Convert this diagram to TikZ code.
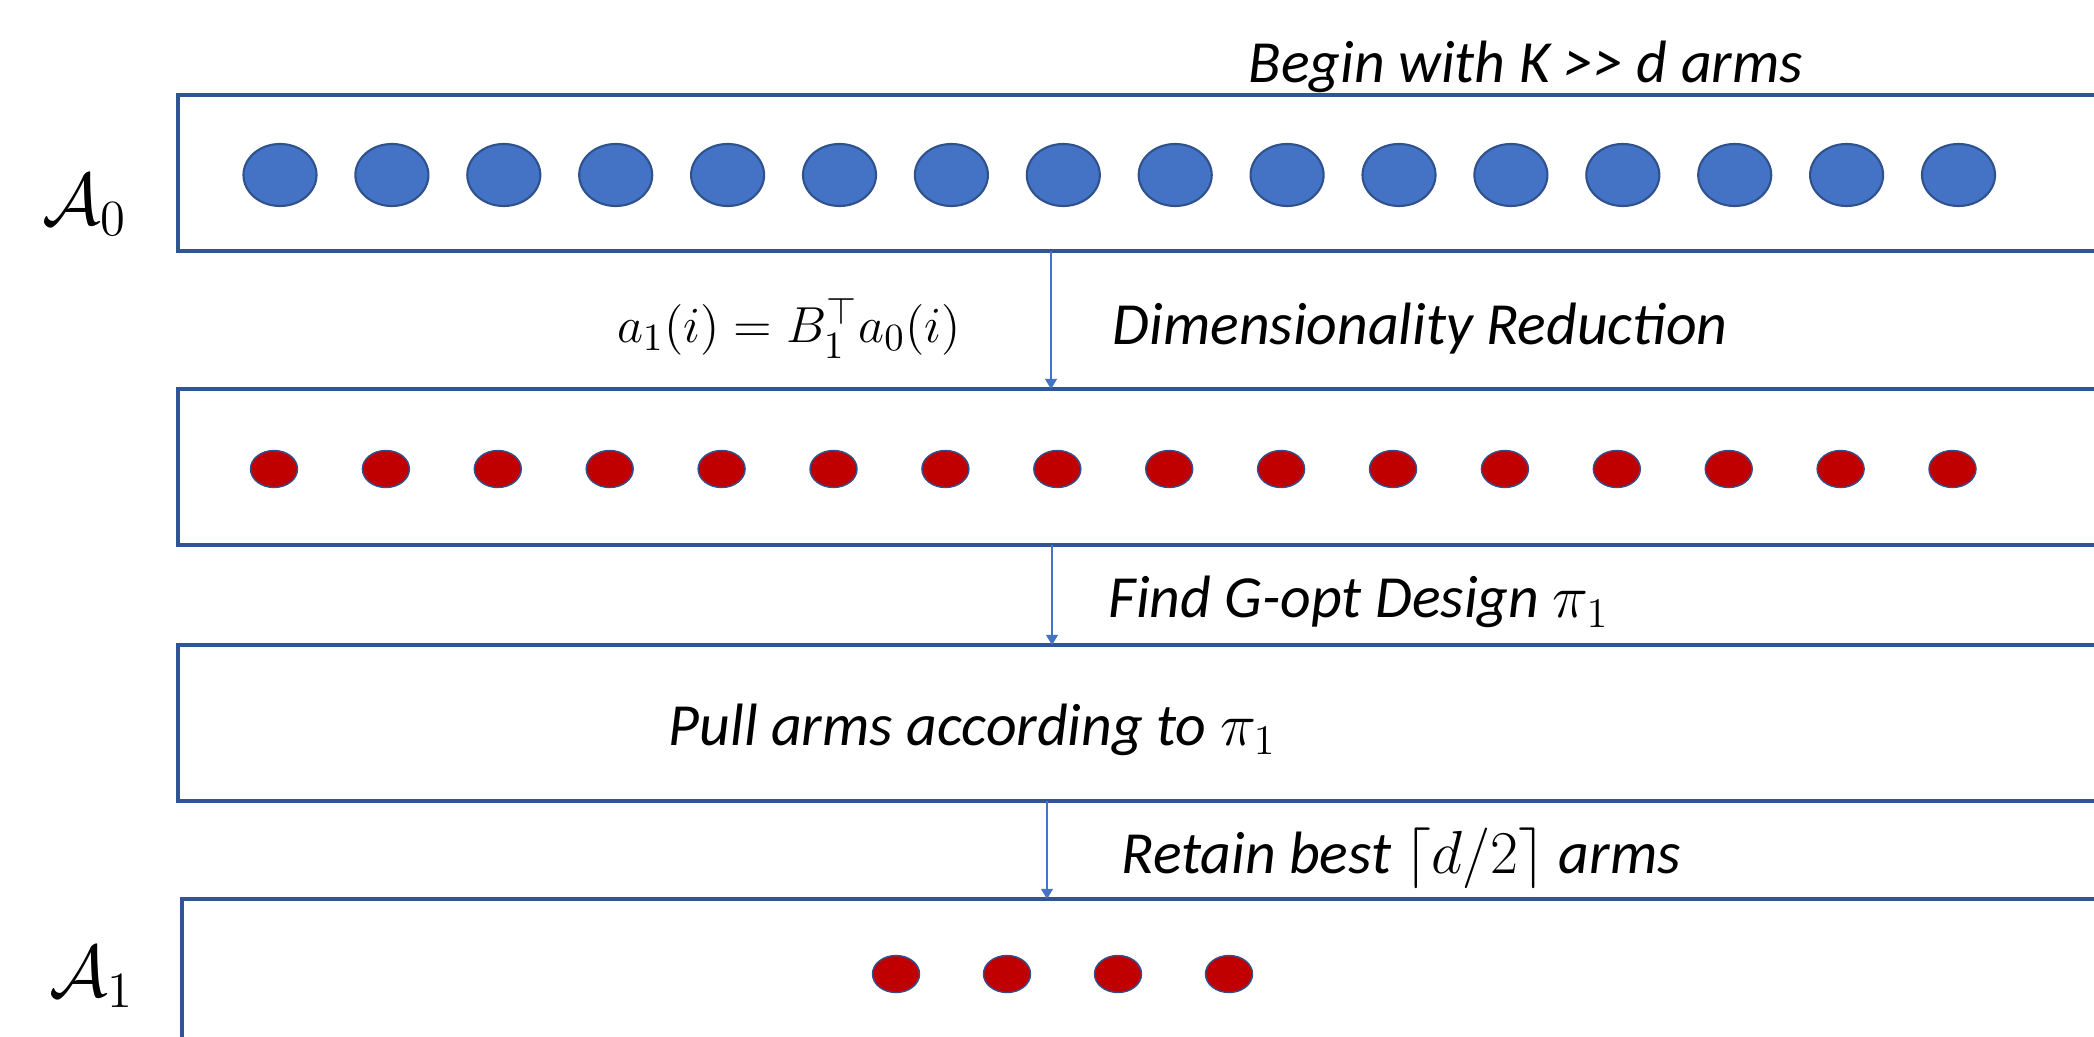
\documentclass[tikz,border=0pt]{standalone}
\usepackage{amsmath}
\usepackage{amssymb}
\usepackage{fontspec}
\setmainfont{Carlito}
\usepackage{tikz}
\usetikzlibrary{shapes.geometric,arrows.meta}
\definecolor{boxblue}{HTML}{2F5597}
\definecolor{armblue}{HTML}{4472C4}
\definecolor{armedge}{HTML}{2F528F}
\definecolor{armred}{HTML}{C00000}
\tikzstyle{stage} = [
    draw=boxblue,
    line width=1.1pt,
    rectangle,
    anchor=north west,
    minimum width=22cm,
    minimum height=1.56cm,
    inner sep=0pt,
    outer sep=0pt
    ]
\tikzstyle{bigarm} = [ellipse, draw=armedge, line width=0.6pt, fill=armblue,
    minimum width=0.73cm, minimum height=0.62cm, inner sep=0pt]
\tikzstyle{smallarm} = [ellipse, draw=armedge, line width=0.4pt, fill=armred,
    minimum width=0.47cm, minimum height=0.37cm, inner sep=0pt]
\tikzstyle{flow} = [draw=armblue, line width=0.4pt, -{Triangle[length=2.9pt,width=3.4pt]}]
\tikzstyle{steptext} = [anchor=base west, inner sep=0pt, font=\fontsize{17}{20}\selectfont\itshape]
\tikzstyle{setlabel} = [inner sep=0pt, font=\fontsize{20}{24}\selectfont]

\begin{document}
\begin{tikzpicture}[x=0.01cm, y=-0.01cm]
\useasboundingbox (0,0) rectangle (2094,1037);
\clip (0,0) rectangle (2094,1037);

\node[stage] (set0) at (178,95) {};
\node[stage] (proj) at (178,389) {};
\node[stage] (pull) at (178,645) {};
\node[stage, minimum height=2cm] (set1) at (182,899) {};

\foreach \i in {0,...,15}
    \node[bigarm] (big\i) at (280+111.9*\i,175) {};
\foreach \i in {0,...,15}
    \node[smallarm] (small\i) at (274+111.9*\i,469) {};
\foreach \i in {0,...,3}
    \node[smallarm] (kept\i) at (896+111*\i,974) {};

\node[setlabel] (lab0) at (85,205) {$\mathcal{A}_0$};
\node[setlabel] (lab1) at (92,977) {$\mathcal{A}_1$};

\node[steptext] (begin) at (1248,83) {Begin with K >{}> d arms};
\node[steptext] (dimred) at (1112,345) {Dimensionality Reduction};
\node[setlabel, font=\fontsize{15.8}{19}\selectfont] (map) at (789,328) {$a_1(i) = B_1^{\top} a_0(i)$};
\node[steptext] (gopt) at (1108,618) {Find G-opt Design $\pi_1$};
\node[steptext] (pullarms) at (668,745) {Pull arms according to $\pi_1$};
\node[steptext] (retain) at (1121,873) {Retain best $\lceil d/2\rceil$ arms};

\coordinate (c0) at (1051,0);
\coordinate (c1) at (1052,0);
\coordinate (c2) at (1047,0);
\draw[flow] (set0.south -| c0) -- (proj.north -| c0);
\draw[flow] (proj.south -| c1) -- (pull.north -| c1);
\draw[flow] (pull.south -| c2) -- (set1.north -| c2);
\end{tikzpicture}
\end{document}
